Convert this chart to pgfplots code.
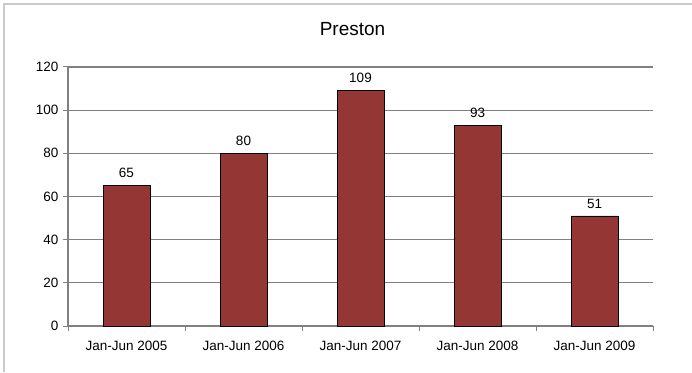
\documentclass[border=0pt]{standalone}
\usepackage{pgfplots}
\pgfplotsset{compat=1.18}
\usepackage{fontspec}
\setmainfont{Liberation Sans}
\definecolor{barred}{HTML}{943634}
\definecolor{gridgray}{HTML}{808080}
\definecolor{framegray}{HTML}{CACACA}
\begin{document}
\begin{tikzpicture}
  % canvas and the chart frame (top and left edges)
  \path[use as bounding box, fill=white] (0pt,0pt) rectangle (692pt,372pt);
  \draw[framegray, line width=2pt] (3.5pt,0pt) -- (3.5pt,368pt) -- (692pt,368pt);
  \begin{axis}[
    at={(68pt,46pt)}, anchor=south west,
    scale only axis, width=585pt, height=259pt,
    xmin=-0.5, xmax=4.5, ymin=0, ymax=120,
    ytick={0,20,...,120},
    xtick={-0.5,0.5,...,4.5},
    xticklabels={},
    extra x ticks={0,1,2,3,4},
    extra x tick labels={Jan-Jun 2005,Jan-Jun 2006,Jan-Jun 2007,Jan-Jun 2008,Jan-Jun 2009},
    extra x tick style={major tick length=0pt, grid=none},
    axis x line*=bottom, axis y line*=left,
    axis line style={gridgray, line width=1.2pt},
    tick style={gridgray, line width=1pt},
    major tick length=5pt,
    tick align=outside,
    ymajorgrids, major grid style={gridgray, line width=1.2pt},
    tick label style={font=\fontsize{13.5}{14}\selectfont, text=black},
    yticklabel style={xshift=-1pt},
    xticklabel style={yshift=-12pt},
    /pgf/number format/assume math mode=true,
    title={Preston},
    title style={font=\fontsize{19}{20}\selectfont, at={(0.5,1)}, yshift=22pt, xshift=-8pt},
    clip=false,
  ]
    \addplot[ybar, bar width=47pt, fill=barred, draw=black, line width=0.8pt,
      nodes near coords,
      every node near coord/.append style={font=\fontsize{13.5}{14}\selectfont, text=black, yshift=4pt}]
      coordinates {(0,65) (1,80) (2,109) (3,93) (4,51)};
  \end{axis}
\end{tikzpicture}
\end{document}
